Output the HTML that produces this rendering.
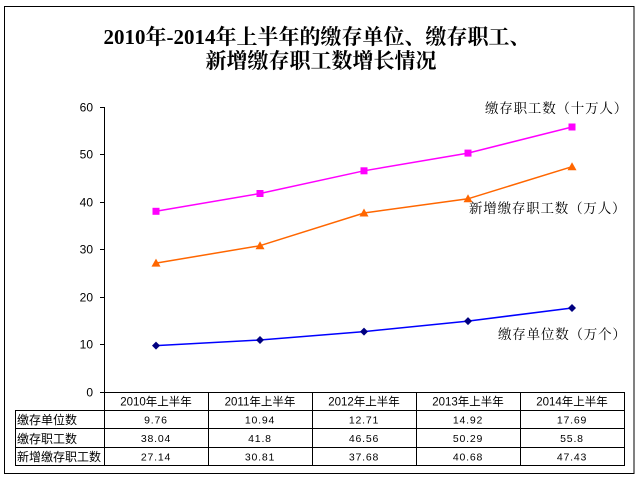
<!DOCTYPE html>
<html>
<head>
<meta charset="utf-8">
<style>
  html, body { margin:0; padding:0; background:#fff; }
  svg { display:block; }
  .t { font-family:"Liberation Serif","Noto Serif CJK SC",serif; font-weight:bold; font-size:21px; fill:#000; }
  .lab { font-family:"Liberation Serif","Noto Serif CJK SC",serif; font-size:13.5px; fill:#000; letter-spacing:0.8px; }
  .ax { font-family:"Liberation Sans",sans-serif; font-size:12px; fill:#000; }
  .hd { font-family:"Liberation Sans","Noto Sans CJK SC",sans-serif; font-size:11.5px; fill:#000; }
  .num { font-family:"Liberation Sans",sans-serif; font-size:10.5px; fill:#000; letter-spacing:0.8px; }
  .rl { font-family:"Liberation Sans","Noto Sans CJK SC",sans-serif; font-size:12px; fill:#000; }
</style>
</head>
<body>
<svg width="639" height="481" viewBox="0 0 639 481" xmlns="http://www.w3.org/2000/svg">
  <rect x="0" y="0" width="639" height="481" fill="#fff"/>
  <rect x="4.5" y="6.5" width="629.5" height="467" fill="none" stroke="#000" stroke-width="1"/>

  <text class="t" x="317" y="44" text-anchor="middle">2010年-2014年上半年的缴存单位、缴存职工、</text>
  <text class="t" x="321" y="68" text-anchor="middle">新增缴存职工数增长情况</text>

  <line x1="104.5" y1="107" x2="104.5" y2="392" stroke="#000" stroke-width="1"/>
  <g stroke="#000" stroke-width="1">
    <line x1="100" y1="107.5" x2="104" y2="107.5"/>
    <line x1="100" y1="154.5" x2="104" y2="154.5"/>
    <line x1="100" y1="202.5" x2="104" y2="202.5"/>
    <line x1="100" y1="249.5" x2="104" y2="249.5"/>
    <line x1="100" y1="297.5" x2="104" y2="297.5"/>
    <line x1="100" y1="344.5" x2="104" y2="344.5"/>
    <line x1="100" y1="392.5" x2="104" y2="392.5"/>
  </g>
  <g class="ax" text-anchor="end">
    <text x="93" y="111.5">60</text>
    <text x="93" y="158.5">50</text>
    <text x="93" y="206.5">40</text>
    <text x="93" y="253.5">30</text>
    <text x="93" y="301.5">20</text>
    <text x="93" y="348.5">10</text>
    <text x="93" y="396.5">0</text>
  </g>

  <g stroke="#000" stroke-width="1" fill="none">
    <line x1="104" y1="392.5" x2="624" y2="392.5"/>
    <line x1="15" y1="410.5" x2="624" y2="410.5"/>
    <line x1="15" y1="428.5" x2="624" y2="428.5"/>
    <line x1="15" y1="447.5" x2="624" y2="447.5"/>
    <line x1="15" y1="465.5" x2="624" y2="465.5"/>
    <line x1="15.5" y1="410" x2="15.5" y2="466"/>
    <line x1="104.5" y1="392" x2="104.5" y2="466"/>
    <line x1="208.5" y1="392" x2="208.5" y2="466"/>
    <line x1="312.5" y1="392" x2="312.5" y2="466"/>
    <line x1="416.5" y1="392" x2="416.5" y2="466"/>
    <line x1="520.5" y1="392" x2="520.5" y2="466"/>
    <line x1="624.5" y1="392" x2="624.5" y2="466"/>
  </g>
  <g class="hd" text-anchor="middle">
    <text x="156" y="405.5">2010年上半年</text>
    <text x="260" y="405.5">2011年上半年</text>
    <text x="364" y="405.5">2012年上半年</text>
    <text x="468" y="405.5">2013年上半年</text>
    <text x="572" y="405.5">2014年上半年</text>
  </g>
  <g class="rl">
    <text x="17" y="424">缴存单位数</text>
    <text x="17" y="443">缴存职工数</text>
    <text x="17" y="461">新增缴存职工数</text>
  </g>
  <g class="num" text-anchor="middle">
    <text x="156" y="423.5">9.76</text>
    <text x="260" y="423.5">10.94</text>
    <text x="364" y="423.5">12.71</text>
    <text x="468" y="423.5">14.92</text>
    <text x="572" y="423.5">17.69</text>
    <text x="156" y="442">38.04</text>
    <text x="260" y="442">41.8</text>
    <text x="364" y="442">46.56</text>
    <text x="468" y="442">50.29</text>
    <text x="572" y="442">55.8</text>
    <text x="156" y="460.5">27.14</text>
    <text x="260" y="460.5">30.81</text>
    <text x="364" y="460.5">37.68</text>
    <text x="468" y="460.5">40.68</text>
    <text x="572" y="460.5">47.43</text>
  </g>

  <polyline points="156,211.3 260,193.5 364,170.8 468,153.1 572,127" fill="none" stroke="#FF00FF" stroke-width="1.5"/>
  <g fill="#FF00FF">
    <rect x="152.5" y="207.8" width="7" height="7"/>
    <rect x="256.5" y="190" width="7" height="7"/>
    <rect x="360.5" y="167.3" width="7" height="7"/>
    <rect x="464.5" y="149.6" width="7" height="7"/>
    <rect x="568.5" y="123.5" width="7" height="7"/>
  </g>

  <polyline points="156,263.1 260,245.7 364,213 468,198.8 572,166.7" fill="none" stroke="#FF6600" stroke-width="1.5"/>
  <g fill="#FF6600">
    <polygon points="156,258.6 160.5,266.6 151.5,266.6"/>
    <polygon points="260,241.2 264.5,249.2 255.5,249.2"/>
    <polygon points="364,208.5 368.5,216.5 359.5,216.5"/>
    <polygon points="468,194.3 472.5,202.3 463.5,202.3"/>
    <polygon points="572,162.2 576.5,170.2 567.5,170.2"/>
  </g>

  <polyline points="156,345.6 260,340 364,331.6 468,321.1 572,308" fill="none" stroke="#0000FF" stroke-width="1.5"/>
  <g fill="#000080">
    <polygon points="156,341.6 160,345.6 156,349.6 152,345.6"/>
    <polygon points="260,336 264,340 260,344 256,340"/>
    <polygon points="364,327.6 368,331.6 364,335.6 360,331.6"/>
    <polygon points="468,317.1 472,321.1 468,325.1 464,321.1"/>
    <polygon points="572,304 576,308 572,312 568,308"/>
  </g>

  <text class="lab" x="485" y="113">缴存职工数（十万人）</text>
  <text class="lab" x="469" y="213">新增缴存职工数（万人）</text>
  <text class="lab" x="498" y="339">缴存单位数（万个）</text>
</svg>
</body>
</html>
